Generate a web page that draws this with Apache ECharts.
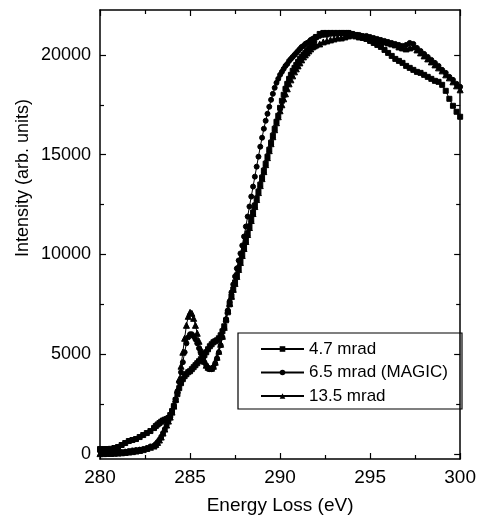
<!DOCTYPE html>
<html><head><meta charset="utf-8">
<script src="https://cdn.jsdelivr.net/npm/echarts@6/dist/echarts.min.js"></script>
<style>html,body{margin:0;padding:0;background:#fff}#c{width:479px;height:520px}</style>
</head><body><div id="c"></div>
<script>
const seriesNames = ['4.7 mrad', '6.5 mrad (MAGIC)', '13.5 mrad'];
const xTicks = [280, 285, 290, 295, 300];
const yTicks = [0, 5000, 10000, 15000, 20000];
const yMinorTicks = [2500, 7500, 12500, 17500];

// sampling grid (eV): 280–282.8 step 0.2, 283–292 step 0.1, 292.2–300 step 0.2
const energies = [];
for (let i = 0; i < 15; i++) energies.push(+(280 + 0.2 * i).toFixed(1));
for (let i = 0; i <= 90; i++) energies.push(+(283 + 0.1 * i).toFixed(1));
for (let i = 1; i <= 40; i++) energies.push(+(292 + 0.2 * i).toFixed(1));

const mrad47 = [
  250,250,250,260,300,350,450,550,650,700,750,850,950,1050,1150,
  1300,1400,1480,1550,1620,1680,1720,1750,1800,1950,
  2150,2400,2700,3000,3300,3550,3750,3900,4000,4100,
  4150,4250,4350,4450,4550,4650,4750,4850,4950,5100,
  5250,5400,5500,5600,5650,5700,5800,5950,6150,6400,
  6700,7100,7500,7900,8250,8600,8950,9300,9650,10000,
  10350,10700,11050,11400,11750,12100,12450,12800,13150,13500,
  13850,14200,14550,14900,15250,15600,15950,16300,16650,16950,
  17350,17700,18000,18300,18550,18800,19000,19200,19350,19500,
  19650,19800,19900,20000,20100,20200,20300,20400,20550,20750,
  20900,
  21050,21100,21100,21100,21100,21100,21100,21100,21100,21050,
  21000,20950,20850,20800,20700,20600,20500,20400,20250,20100,
  19950,19800,19700,19600,19450,19350,19250,19150,19100,19000,
  18900,18800,18700,18650,18500,18200,17800,17450,17150,16900
];
const mrad65 = [
  150,150,130,120,100,100,100,120,150,180,200,220,250,300,380,
  420,500,600,720,870,1050,1250,1450,1650,1850,
  2100,2400,2750,3150,3600,4100,4600,5100,5550,5850,
  6000,6000,5900,5750,5550,5300,5050,4800,4600,4450,
  4300,4250,4250,4350,4550,4800,5100,5450,5850,6300,
  6750,7200,7650,8100,8500,8900,9300,9700,10050,10450,
  10900,11400,11900,12400,12900,13400,13900,14400,14900,15400,
  15850,16300,16700,17050,17400,17750,18050,18350,18600,18800,
  19000,19150,19300,19450,19550,19700,19800,19900,20000,20100,
  20200,20300,20400,20450,20550,20600,20650,20750,20800,20850,
  20900,
  20950,21000,21000,21050,21050,21050,21100,21100,21100,21050,
  21000,21000,20950,20950,20900,20850,20800,20750,20700,20650,
  20600,20550,20500,20450,20500,20600,20550,20350,20200,20050,
  19900,19750,19600,19450,19250,19100,18900,18750,18550,18400
];
const mrad135 = [
  20,20,30,30,40,50,60,80,100,120,150,180,220,280,340,
  400,480,580,700,850,1050,1250,1450,1650,1850,
  2100,2400,2750,3200,3750,4400,5100,5800,6450,6900,
  7100,7050,6800,6450,6050,5650,5250,4900,4650,4450,
  4350,4300,4300,4400,4600,4850,5150,5500,5900,6350,
  6800,7200,7550,7900,8250,8550,8900,9250,9600,9950,
  10300,10650,11000,11350,11700,12050,12400,12750,13100,13450,
  13800,14150,14500,14850,15200,15550,15900,16250,16600,16900,
  17200,17500,17800,18050,18300,18550,18750,18950,19150,19300,
  19450,19600,19750,19900,20000,20100,20200,20300,20400,20450,
  20500,
  20550,20650,20700,20750,20800,20850,20850,20900,20950,21000,
  20950,20900,20900,20850,20800,20800,20750,20700,20650,20600,
  20550,20500,20400,20350,20300,20350,20400,20250,20100,19950,
  19800,19650,19500,19350,19200,19000,18850,18650,18450,18250
];

const FONT = '"Liberation Sans", Arial, Helvetica, sans-serif';
const pair = arr => energies.map((e, i) => [e, arr[i]]);
const axisLineStyle = { color: '#000', width: 1.5 };

function mkSeries(name, arr, symbol, size) {
  return {
    name, type: 'line', data: pair(arr), symbol, symbolSize: size,
    showAllSymbol: true, xAxisIndex: 0, yAxisIndex: 0,
    lineStyle: { color: '#000', width: 1 },
    itemStyle: { color: '#000', borderColor: '#000' },
    emphasis: { disabled: true }, animation: false
  };
}

const yMajor = (pos, labels) => ({
  type: 'value', position: pos, min: -250, max: 22250,
  splitLine: { show: false },
  axisLine: { show: true, onZero: false, lineStyle: axisLineStyle },
  axisTick: { show: true, inside: true, length: 6, customValues: yTicks, lineStyle: { color: '#000', width: 1.2 } },
  axisLabel: { show: labels, customValues: yTicks, color: '#000', fontSize: 18, fontFamily: FONT, margin: 9,
    formatter: v => String(Math.round(v)) }
});
const yMinor = (pos) => ({
  type: 'value', position: pos, min: -250, max: 22250,
  splitLine: { show: false },
  axisLine: { show: false },
  axisTick: { show: true, inside: true, length: 4, customValues: yMinorTicks, lineStyle: { color: '#000', width: 1.2 } },
  axisLabel: { show: false, customValues: yMinorTicks }
});
const xAx = (pos, labels) => ({
  type: 'value', position: pos, min: 280, max: 300, interval: 5,
  splitLine: { show: false },
  axisLine: { show: true, onZero: false, lineStyle: axisLineStyle },
  axisTick: { show: true, inside: true, length: 6, lineStyle: { color: '#000', width: 1.2 } },
  minorTick: { show: true, splitNumber: 2, length: 4, lineStyle: { color: '#000', width: 1.2 } },
  axisLabel: { show: labels, color: '#000', fontSize: 19, fontFamily: FONT, margin: 9,
    formatter: v => String(Math.round(v)) },
  name: labels ? 'Energy Loss (eV)' : '', nameLocation: 'middle', nameGap: 37,
  nameTextStyle: { color: '#000', fontSize: 19, fontFamily: FONT }
});

const chart = echarts.init(document.getElementById('c'), null, { renderer: 'canvas' });
chart.setOption({
  animation: false,
  backgroundColor: '#fff',
  grid: { left: 100, right: 17, top: 10, bottom: 58, containLabel: false },
  xAxis: [xAx('bottom', true), xAx('top', false)],
  yAxis: [yMajor('left', true), yMajor('right', false), yMinor('left'), yMinor('right')],
  legend: {
    left: 255, top: 335, orient: 'vertical',
    itemWidth: 43, itemHeight: 7, itemGap: 5.5,
    textStyle: { color: '#000', fontSize: 17, fontFamily: FONT, lineHeight: 18, padding: [0, 0, 0, 0] },
    data: seriesNames, selectedMode: false
  },
  graphic: [
    { type: 'rect', shape: { x: 238, y: 333, width: 224, height: 76 }, style: { fill: 'none', stroke: '#000', lineWidth: 1.2 }, z: 100 },
    { type: 'text', x: 23, y: 178, rotation: Math.PI / 2,
      style: { text: 'Intensity (arb. units)', fill: '#000', font: '18px ' + FONT, align: 'center', verticalAlign: 'middle' } }
  ],
  series: [
    mkSeries(seriesNames[0], mrad47, 'rect', 5),
    mkSeries(seriesNames[1], mrad65, 'circle', 5),
    mkSeries(seriesNames[2], mrad135, 'triangle', 6)
  ]
});
</script>
</body></html>
